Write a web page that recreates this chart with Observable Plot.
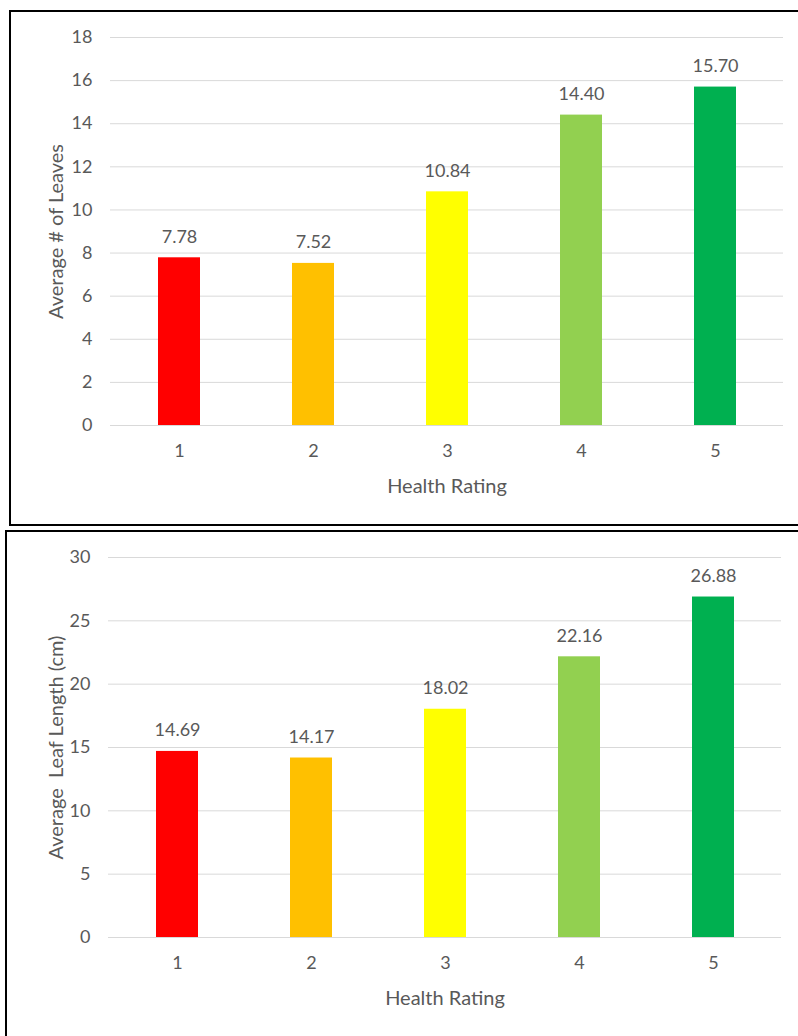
<!DOCTYPE html>
<html><head><meta charset="utf-8">
<script src="https://cdn.jsdelivr.net/npm/d3@7"></script>
<script src="https://cdn.jsdelivr.net/npm/@observablehq/plot@0.6"></script>
<style>
html,body{margin:0;padding:0;background:#fff}
body{overflow:hidden;width:798px;height:1036px;position:relative;font-family:Lato,sans-serif}
.panel{position:absolute;border:2.5px solid #000;box-sizing:border-box}
.chart{position:absolute;left:0}
</style></head><body>
<div class="panel" style="left:9px;top:10px;width:900px;height:516px"></div>
<div class="panel" style="left:5px;top:529.5px;width:900px;height:600px"></div>
<div id="c1" class="chart" style="top:12px"></div>
<div id="c2" class="chart" style="top:533px"></div>
<script>
const ratings = ["1", "2", "3", "4", "5"];
const avgLeaves = [7.78, 7.52, 10.84, 14.40, 15.70];
const avgLeafLength = [14.69, 14.17, 18.02, 22.16, 26.88];
const leavesTicks = [0, 2, 4, 6, 8, 10, 12, 14, 16, 18];
const lengthTicks = [0, 5, 10, 15, 20, 25, 30];
const palette = ["#FF0000", "#FFC000", "#FFFF00", "#92D050", "#00B050"];
const xTitle = "Health Rating";
const yTitle1 = "Average # of Leaves";
const yTitle2 = "Average  Leaf Length (cm)";

const textColor = "#595959";
const gridColor = "#d9d9d9";

function makeChart({values, ticks, yMax, yTitle, height, mt, mb, ml, mr}) {
  const data = ratings.map((r, i) => ({rating: r, value: values[i]}));
  return Plot.plot({
    width: 798,
    height,
    marginTop: mt,
    marginBottom: mb,
    marginLeft: ml,
    marginRight: mr,
    style: {fontFamily: "Lato, sans-serif", fontSize: "18px", color: textColor, background: "transparent", overflow: "visible"},
    x: {domain: ratings, paddingInner: 0.69, paddingOuter: 0.345, label: null},
    y: {domain: [0, yMax], label: null},
    color: {domain: ratings, range: palette},
    marks: [
      Plot.gridY(ticks, {stroke: gridColor, strokeOpacity: 1, strokeWidth: 1}),
      Plot.barY(data, {x: "rating", y: "value", fill: "rating"}),
      Plot.text(data, {x: "rating", y: "value", text: d => d.value.toFixed(2), dy: -21, lineAnchor: "middle", fill: textColor, fontSize: 18}),
      Plot.axisY(ticks, {tickSize: 0, tickPadding: 18, label: null, fontSize: 18}),
      Plot.axisX({tickSize: 0, tickPadding: 19, label: null, fontSize: 18}),
      Plot.text([xTitle], {frameAnchor: "bottom", dy: 61, lineAnchor: "middle", textAnchor: "middle", fill: textColor, fontSize: 20}),
      Plot.text([yTitle], {frameAnchor: "left", dx: -(ml - 56), rotate: -90, lineAnchor: "middle", textAnchor: "middle", fill: textColor, fontSize: 20})
    ]
  });
}

document.getElementById("c1").append(makeChart({
  values: avgLeaves, ticks: leavesTicks, yMax: 18, yTitle: yTitle1,
  height: 510, mt: 25, mb: 97, ml: 110, mr: 15
}));
document.getElementById("c2").append(makeChart({
  values: avgLeafLength, ticks: lengthTicks, yMax: 30, yTitle: yTitle2,
  height: 503, mt: 24, mb: 99, ml: 108, mr: 17
}));
</script>
</body></html>
